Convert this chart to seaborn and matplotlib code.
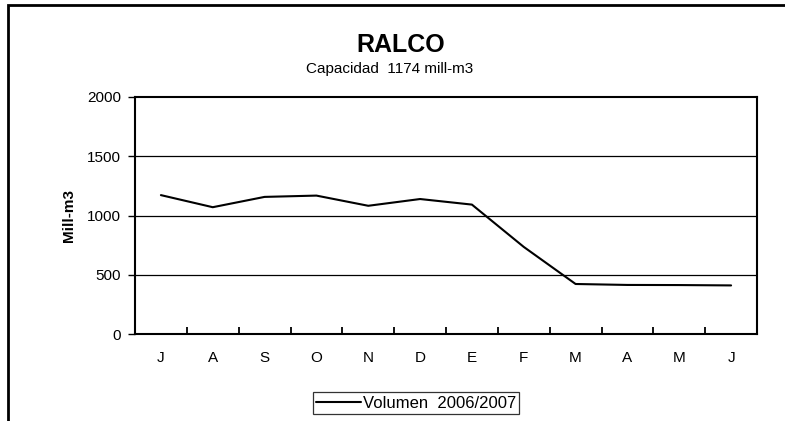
import matplotlib
matplotlib.use("Agg")
import matplotlib.pyplot as plt
import seaborn as sns
import numpy as np
import pandas as pd
from matplotlib.patches import Rectangle

months = ["J", "A", "S", "O", "N", "D", "E", "F", "M", "A", "M", "J"]
volumen = [1172, 1070, 1157, 1168, 1082, 1139, 1092, 735, 422, 414, 413, 410]
y_ticks = [0, 500, 1000, 1500, 2000]
series_label = "Volumen  2006/2007"

sns.set_theme(style="white")
plt.rcParams['font.family'] = ['Liberation Sans', 'DejaVu Sans']
plt.rcParams['text.color'] = 'black'

df = pd.DataFrame({"pos": np.arange(len(months)), "vol": volumen})

fig = plt.figure(figsize=(7.85, 4.21), dpi=100)
ax = fig.add_axes([135/785, 1-334/421, (757-135)/785, (334-97)/421])

sns.lineplot(data=df, x="pos", y="vol", ax=ax, color="black", linewidth=1.5,
             label=series_label, sort=False)

ax.set_xlim(-0.5, len(months) - 0.5)
ax.set_ylim(0, 2000)
ax.set_yticks(y_ticks)
ax.set_yticklabels([str(v) for v in y_ticks], fontsize=11, color="black")
ax.set_xticks(np.arange(len(months)))
ax.set_xticklabels(months, fontsize=11, color="black")
ax.set_xticks(np.arange(0.5, len(months) - 1, 1.0), minor=True)
ax.tick_params(axis="x", which="major", length=0, pad=12, bottom=False)
ax.tick_params(axis="x", which="minor", direction="in", length=5, width=1.3,
               color="black", bottom=True)
ax.tick_params(axis="y", which="major", direction="out", length=5, width=1,
               color="black", pad=5, left=True)

for v in [500, 1000, 1500]:
    ax.axhline(v, color="black", linewidth=0.9, zorder=0)

for s in ax.spines.values():
    s.set_visible(True)
    s.set_color("black")
    s.set_linewidth(1.5)

ax.set_xlabel("")
ax.set_ylabel("Mill-m3", fontsize=11, fontweight="bold", color="black")
ax.yaxis.set_label_coords((76 - 135) / 622, 0.5)

fig.text(401/785, 1-45/421, "RALCO", fontsize=18, fontweight="bold", ha="center",
         va="center", color="black")
fig.text(390/785, 1-69/421, "Capacidad  1174 mill-m3", fontsize=11, ha="center",
         va="center", color="black")

leg = ax.legend(loc="center", bbox_to_anchor=(416/785, 1-403/421), bbox_transform=fig.transFigure,
                frameon=True, fancybox=False, fontsize=12, handlelength=2.7, borderpad=0.2,
                handletextpad=0.1, borderaxespad=0)
leg.get_frame().set_edgecolor("black")
leg.get_frame().set_linewidth(0.9)
for t in leg.get_texts():
    t.set_color("black")

# outer chart frame (top and left visible)
fig.patches.append(Rectangle((8/785, -0.05), 1.2, (1-5/421) + 0.05, transform=fig.transFigure,
                             fill=False, edgecolor="black", linewidth=2))

fig.savefig("out.png", dpi=100)
